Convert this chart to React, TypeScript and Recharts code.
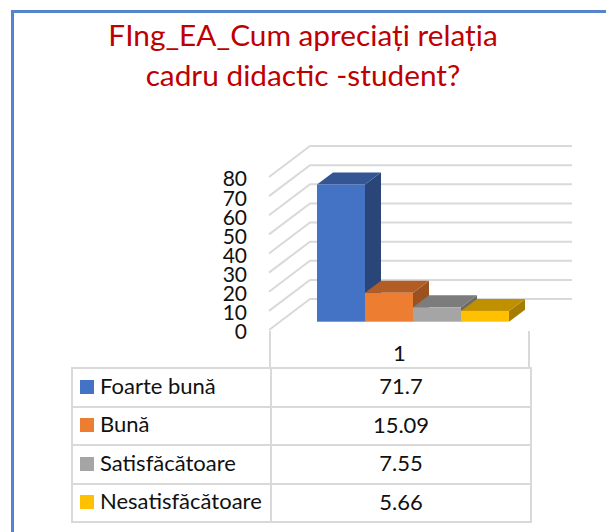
import { BarChart, Bar, XAxis, YAxis, CartesianGrid } from 'recharts'

const categories = ['1']
const seriesNames = ['Foarte bună', 'Bună', 'Satisfăcătoare', 'Nesatisfăcătoare']
const seriesValues = [71.7, 15.09, 7.55, 5.66]
const frontColors = ['#4472c4', '#ed7d31', '#a5a5a5', '#ffc000']
const topColors = ['#335593', '#b25d25', '#7c7c7c', '#bf9000']
const sideColors = ['#2a4678', '#9b5120', '#6b6b6b', '#a67d00']
const yTicks = [0, 10, 20, 30, 40, 50, 60, 70, 80]
const titleLines = ['FIng_EA_Cum apreciați relația', 'cadru didactic -student?']

const FONT = 'Lato, sans-serif'
const GRID = '#d9d9d9'

const data = categories.map(category => {
  const row: Record<string, string | number> = { category }
  seriesNames.forEach((name, i) => { row[name] = seriesValues[i] })
  return row
})

// bars stand in the middle of the floor, walls go further back
const makeCuboid = (i: number) => (props: any) => {
  const { x, y, width, height } = props
  const left = x + 13
  const right = left + width
  const top = y - 8.3
  const bottom = top + height
  const dx = 16
  const dy = 12
  return (
    <g>
      <polygon
        points={`${right},${top} ${right + dx},${top - dy} ${right + dx},${bottom - dy} ${right},${bottom}`}
        fill={sideColors[i]}
      />
      <polygon
        points={`${left},${top} ${left + dx},${top - dy} ${right + dx},${top - dy} ${right},${top}`}
        fill={topColors[i]}
      />
      <rect x={left} y={top} width={width} height={height} fill={frontColors[i]} />
    </g>
  )
}

const wallLine = (props: any) => {
  const { x1, y1, key } = props
  return (
    <polyline
      key={key}
      points={`${x1},${y1} ${x1 + 41},${y1 - 31} ${x1 + 303},${y1 - 31}`}
      fill="none"
      stroke={GRID}
      strokeWidth={2}
    />
  )
}

const cellBorder = `2px solid ${GRID}`

export default function App() {
  return (
    <div style={{ position: 'absolute', left: 0, top: 0, width: 606, height: 532, background: '#fff', overflow: 'hidden', fontFamily: FONT }}>
      <div style={{ position: 'absolute', left: 11, top: 10, width: 595, height: 522, borderLeft: '3px solid #5585cf', borderTop: '3px solid #5585cf', boxSizing: 'border-box' }} />

      <div style={{ position: 'absolute', left: 0, top: 15, width: 606, textAlign: 'center', color: '#c00000', fontSize: 29.8, lineHeight: '40px' }}>
        {titleLines.map(line => <div key={line}>{line}</div>)}
      </div>

      {/* the two short verticals above the table */}
      <div style={{ position: 'absolute', left: 269, top: 331, width: 261, height: 37, borderLeft: cellBorder, borderRight: cellBorder, boxSizing: 'border-box' }} />
      <table style={{ position: 'absolute', left: 71, top: 367, width: 459, height: 155, borderCollapse: 'collapse', tableLayout: 'fixed', color: '#111', fontSize: 22 }}>
        <colgroup>
          <col style={{ width: 199 }} />
          <col style={{ width: 260 }} />
        </colgroup>
        <tbody>
          {seriesNames.map((name, i) => (
            <tr key={name} style={{ height: 38.5 }}>
              <td style={{ border: cellBorder, padding: '0 0 3px 7px', whiteSpace: 'nowrap', lineHeight: '26px' }}>
                <span style={{ display: 'inline-block', width: 14, height: 14, background: frontColors[i], marginRight: 6 }} />
                {name}
              </td>
              <td style={{ border: cellBorder, padding: '0 0 2px 0', textAlign: 'center', lineHeight: '26px' }}>{seriesValues[i]}</td>
            </tr>
          ))}
        </tbody>
      </table>

      <div style={{ position: 'absolute', left: 0, top: 0 }}>
        <BarChart
          width={606}
          height={532}
          data={data}
          margin={{ top: 177, right: 76, bottom: 165, left: 0 }}
          barCategoryGap={35}
          barGap={0}
        >
          <CartesianGrid vertical={false} horizontal={wallLine} />
          <XAxis
            dataKey="category"
            height={37}
            axisLine={false}
            tickLine={false}
            tickMargin={9}
            tick={{ fill: '#111', fontSize: 22, fontFamily: FONT }}
          />
          <YAxis
            width={269}
            domain={[0, 80]}
            ticks={yTicks}
            interval={0}
            axisLine={false}
            tickLine={false}
            tickMargin={16}
            tick={{ fill: '#111', fontSize: 21, fontFamily: FONT, dy: 2 }}
          />
          {seriesNames.map((name, i) => (
            <Bar key={name} dataKey={name} shape={makeCuboid(i)} isAnimationActive={false} />
          ))}
        </BarChart>
      </div>
    </div>
  )
}
